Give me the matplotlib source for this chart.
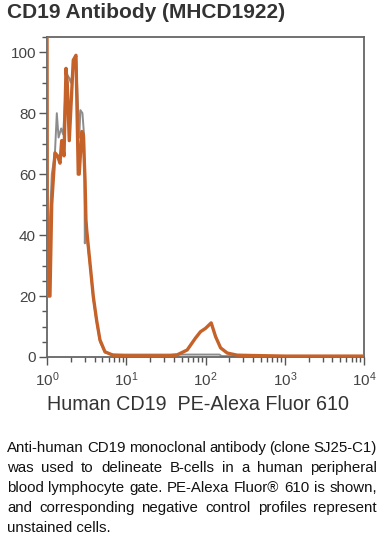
import matplotlib
matplotlib.use("Agg")
import matplotlib.pyplot as plt
from matplotlib.ticker import MultipleLocator, LogLocator

plt.rcParams['font.family'] = ['Liberation Sans', 'DejaVu Sans']
plt.rcParams['mathtext.default'] = 'regular'

#********** Data **********#
stained_x = [1.0, 1.01, 1.09, 1.146, 1.26, 1.36, 1.458, 1.532, 1.64, 1.737, 1.80,
             1.91, 2.145, 2.32, 2.48, 2.55, 2.75, 2.87, 3.02, 3.1, 3.17, 3.49,
             3.84, 4.23, 4.66, 5.39, 6.8, 10, 20, 35, 43.8, 58.7, 74.7, 86.5, 100,
             118, 134, 155, 188, 251, 372, 1000, 3000, 10000]
stained_y = [110, 20, 20, 50, 67, 66, 63.6, 71, 66, 94.7, 90,
             71, 97.4, 99, 60, 60, 74, 73, 58, 45, 41.6, 30.7,
             19.8, 12, 5.6, 1.7, 0.6, 0.4, 0.4, 0.4, 0.7, 2.3, 6.2, 8.3, 9.4,
             11.2, 6.7, 3.0, 1.3, 0.6, 0.5, 0.3, 0.3, 0.3]

control_x = [1.0, 1.02, 1.08, 1.15, 1.26, 1.33, 1.40, 1.51, 1.6, 1.76, 1.91,
             2.0, 2.32, 2.55, 2.64, 2.8, 2.95, 3.0, 3.08, 3.49, 3.84, 4.23,
             4.66, 5.39, 6.8, 20, 60, 100, 150, 160, 10000]
control_y = [110, 22, 43, 60, 67, 80, 72, 75, 73, 93, 91.5,
             90, 99, 72, 81, 80, 72, 37.3, 43, 30, 19, 11.5,
             5, 1.5, 0.8, 0.8, 0.8, 0.8, 0.8, 0.3, 0.3]

title = "CD19 Antibody (MHCD1922)"
xlabel = "Human CD19  PE-Alexa Fluor 610"
caption = ["Anti-human CD19 monoclonal antibody (clone SJ25-C1)",
           "was used to delineate B-cells in a human peripheral",
           "blood lymphocyte gate. PE-Alexa Fluor\u00ae 610 is shown,",
           "and corresponding negative control profiles represent",
           "unstained cells."]

#********** Figure **********#
W, H = 385, 538
fig = plt.figure(figsize=(W / 100, H / 100), dpi=100)
ax = fig.add_axes([47 / W, 1 - 357 / H, (364 - 47) / W, (357 - 37) / H])

ax.plot(control_x, control_y, color='#8c8c8c', lw=1.4, zorder=2)
ax.plot(stained_x, stained_y, color='#c5622a', lw=2.4, zorder=3)

ax.set_xscale('log')
ax.set_xlim(1, 10000)
ax.set_ylim(0, 105)
ax.yaxis.set_major_locator(MultipleLocator(20))
ax.yaxis.set_minor_locator(MultipleLocator(5))
ax.xaxis.set_minor_locator(LogLocator(subs=range(2, 10)))

for s in ax.spines.values():
    s.set_color('#666666')
    s.set_linewidth(1.3)
ax.tick_params(which='major', direction='out', length=6, width=1, color='#555555',
               labelsize=11, labelcolor='#444444', pad=2)
ax.tick_params(which='minor', direction='out', length=3.5, width=1, color='#555555')
ax.tick_params(axis='x', which='major', labelsize=11, pad=4)

ax.set_xlabel(xlabel, fontsize=14.2, color='#333333')
ax.xaxis.set_label_coords(0.475, -0.147)
ax.xaxis.label.set_va('center')

fig.text(7 / W, 1 - 13 / H, title, fontsize=15, fontweight='bold', color='#333333',
         va='center', ha='left')

#********** Justified caption **********#
renderer = fig.canvas.get_renderer()
left, right = 7, 377
base = 452
fs = 10.8
for i, line in enumerate(caption):
    y = 1 - (base + 20 * i) / H
    words = line.split(' ')
    if i == len(caption) - 1:
        fig.text(left / W, y, line, fontsize=fs, color='#111111', va='baseline')
        continue
    texts = [fig.text(0, y, w, fontsize=fs, color='#111111', va='baseline') for w in words]
    widths = [t.get_window_extent(renderer).width for t in texts]
    gap = (right - left - sum(widths)) / (len(words) - 1)
    x = left
    for t, w in zip(texts, widths):
        t.set_x(x / W)
        x += w + gap

fig.savefig('out.png', dpi=100)
